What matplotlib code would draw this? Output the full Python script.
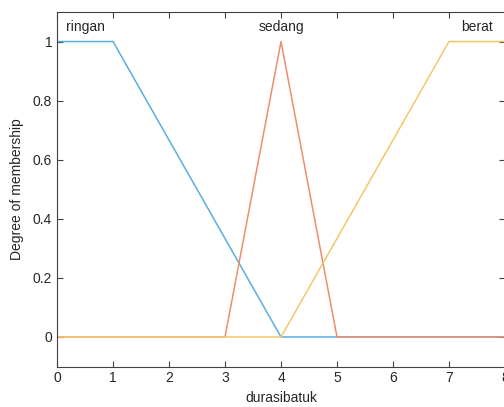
import matplotlib.pyplot as plt

plt.rcParams['font.family'] = ['Liberation Sans', 'DejaVu Sans']

# membership functions of durasibatuk
names = ['ringan', 'sedang', 'berat']
mf_x = [[0, 1, 4, 8], [0, 3, 4, 5, 8], [0, 4, 7, 8]]
mf_y = [[1, 1, 0, 0], [0, 0, 1, 0, 0], [0, 0, 1, 1]]
label_x = [0.5, 4, 7.5]
colors = ['#5aaee0', '#ec8d6c', '#f3c868']

fig = plt.figure(figsize=(5.04, 4.07), dpi=100)
ax = fig.add_axes([57 / 504, 40.5 / 407, 448 / 504, 354.5 / 407])

for xs, ys, c in zip(mf_x, mf_y, colors):
    ax.plot(xs, ys, color=c, lw=1.1)

for name, lx in zip(names, label_x):
    ax.text(lx, 1.05, name, ha='center', va='center', fontsize=10, color='#262626')

ax.set_xlim(0, 8)
ax.set_ylim(-0.1, 1.1)
ax.set_xticks(range(0, 9))
ax.set_yticks([0, 0.2, 0.4, 0.6, 0.8, 1])
ax.set_yticklabels(['0', '0.2', '0.4', '0.6', '0.8', '1'])
ax.tick_params(direction='in', top=True, right=True, length=4, width=0.8,
               colors='#404040', labelsize=10, labelcolor='#262626')
for s in ax.spines.values():
    s.set_color('#404040')
    s.set_linewidth(0.8)
ax.set_xlabel('durasibatuk', fontsize=10, color='#262626', labelpad=4)
ax.set_ylabel('Degree of membership', fontsize=10, color='#262626', labelpad=6)

fig.savefig('out.png', dpi=100)
